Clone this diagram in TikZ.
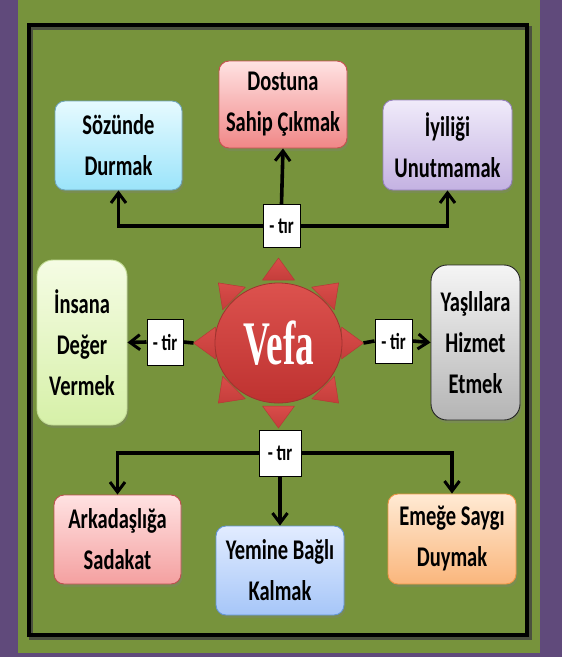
\documentclass[tikz,border=0pt]{standalone}
\usepackage{fontspec}
\setmainfont{Carlito}[FakeStretch=0.72]
\newfontfamily\vefafont{Liberation Serif}[FakeStretch=0.6]
\usetikzlibrary{arrows.meta,shapes.geometric,shadows,calc}
\definecolor{purp}{HTML}{604A7B}
\definecolor{olive}{HTML}{77933C}
\definecolor{vred}{HTML}{D64340}
\tikzset{
  box/.style={draw, line width=0.9pt, rounded corners=10pt, align=center, inner sep=2pt,
    font=\bfseries\fontsize{28.5}{41}\selectfont, text=black,
    drop shadow={opacity=0.3, shadow xshift=1.5pt, shadow yshift=-3pt}},
  tirbox/.style={draw=black, line width=1pt, fill=white, inner sep=0pt,
    font=\bfseries\fontsize{23}{23}\selectfont},
  conn/.style={line width=3.6pt, line cap=butt,
    >={Straight Barb[length=10pt,width=15pt,line width=3pt]}},
  tri/.style={draw=vred!85!black, line width=0.5pt, line join=round},
}
\begin{document}
\begin{tikzpicture}[x=1pt,y=-1pt]
\useasboundingbox (0,0) rectangle (562,657);
\fill[purp] (0,0) rectangle (562,657);
\fill[olive] (18,0) rectangle (540,653);
% frame
\draw[line width=4pt, black!75, opacity=0.8] (31,27.5) rectangle (529.5,638);
\draw[line width=4pt] (28.5,24.5) rectangle (527,635);

% sun triangles
\foreach \a in {0,45,...,315}{
  \begin{scope}[shift={(278.5,343)}, rotate=\a]
    \path[tri, top color=vred!95!white, bottom color=vred!92!black] (85,0) -- (63,16) -- (63,-16) -- cycle;
  \end{scope}
}
\node[ellipse, draw=vred!75!black, line width=0.8pt, minimum width=127pt, minimum height=120pt, inner sep=0pt,
  top color={rgb,255:red,220;green,82;blue,78}, bottom color={rgb,255:red,190;green,50;blue,48}, text=white] (vefa) at (278.5,343)
  {\vefafont\bfseries\fontsize{62}{62}\selectfont Vefa};
\coordinate (tw) at (193.5,343);
\coordinate (te) at (363.5,343);

% boxes
\node[box, minimum width=127pt, minimum height=89pt, draw=cyan!60!black!70,
  top color={rgb,255:red,230;green,250;blue,255}, bottom color={rgb,255:red,155;green,228;blue,250}]
  (soz) at (118.5,145.5) {Sözünde\\Durmak};
\node[box, minimum width=128pt, minimum height=87pt, draw={rgb,255:red,200;green,80;blue,80},
  top color={rgb,255:red,255;green,226;blue,226}, bottom color={rgb,255:red,240;green,135;blue,135}]
  (dost) at (283,104.5) {Dostuna\\Sahip Çıkmak};
\node[box, minimum width=129pt, minimum height=90pt, draw={rgb,255:red,150;green,130;blue,190},
  top color={rgb,255:red,240;green,235;blue,250}, bottom color={rgb,255:red,196;green,178;blue,226}]
  (iyi) at (447.5,145) {İyiliği\\Unutmamak};
\node[box, rounded corners=16pt, minimum width=90pt, minimum height=165pt, draw={rgb,255:red,195;green,220;blue,150},
  top color={rgb,255:red,245;green,252;blue,228}, bottom color={rgb,255:red,214;green,240;blue,168}]
  (insana) at (82,342.5) {İnsana\\Değer\\Vermek};
\node[box, rounded corners=16pt, minimum width=89pt, minimum height=155pt, draw=black!85,
  top color={rgb,255:red,245;green,245;blue,245}, bottom color={rgb,255:red,180;green,180;blue,180}]
  (yasl) at (475.5,342.5) {Yaşlılara\\Hizmet\\Etmek};
\node[box, minimum width=127pt, minimum height=89pt, draw={rgb,255:red,190;green,80;blue,80},
  top color={rgb,255:red,255;green,226;blue,226}, bottom color={rgb,255:red,244;green,160;blue,160}]
  (ark) at (117.5,539.5) {Arkadaşlığa\\Sadakat};
\node[box, minimum width=128pt, minimum height=89pt, draw={rgb,255:red,100;green,150;blue,215},
  top color={rgb,255:red,226;green,236;blue,255}, bottom color={rgb,255:red,166;green,198;blue,248}]
  (yem) at (280,570.5) {Yemine Bağlı\\Kalmak};
\node[box, minimum width=128pt, minimum height=90pt, draw={rgb,255:red,240;green,150;blue,70},
  top color={rgb,255:red,255;green,234;blue,212}, bottom color={rgb,255:red,250;green,182;blue,124}]
  (emg) at (452,539) {Emeğe Saygı\\Duymak};

% labels
\node[tirbox, minimum width=37pt, minimum height=43pt] (lt) at (281.5,226) {- tır};
\node[tirbox, minimum width=36pt, minimum height=46pt] (ll) at (165,342) {- tir};
\node[tirbox, minimum width=37pt, minimum height=44pt] (lr) at (393.5,341) {- tir};
\node[tirbox, minimum width=42pt, minimum height=46pt] (lb) at (280,453) {- tır};

% connectors
\draw[conn,->] (lt.north) -- (dost.south);
\draw[conn,->] (lt.west) -| (soz.south);
\draw[conn,->] (lt.east) -| (iyi.south);
\draw[conn] (tw) -- (ll.east);
\draw[conn,->] (ll.west) -- (insana.east);
\draw[conn] (te) -- (lr.west);
\draw[conn,->] (lr.east) -- (yasl.west);
\draw[conn,->] (lb.west) -| (ark.north);
\draw[conn,->] (lb.east) -| (emg.north);
\draw[conn,->] (lb.south) -- (yem.north);
\end{tikzpicture}
\end{document}
